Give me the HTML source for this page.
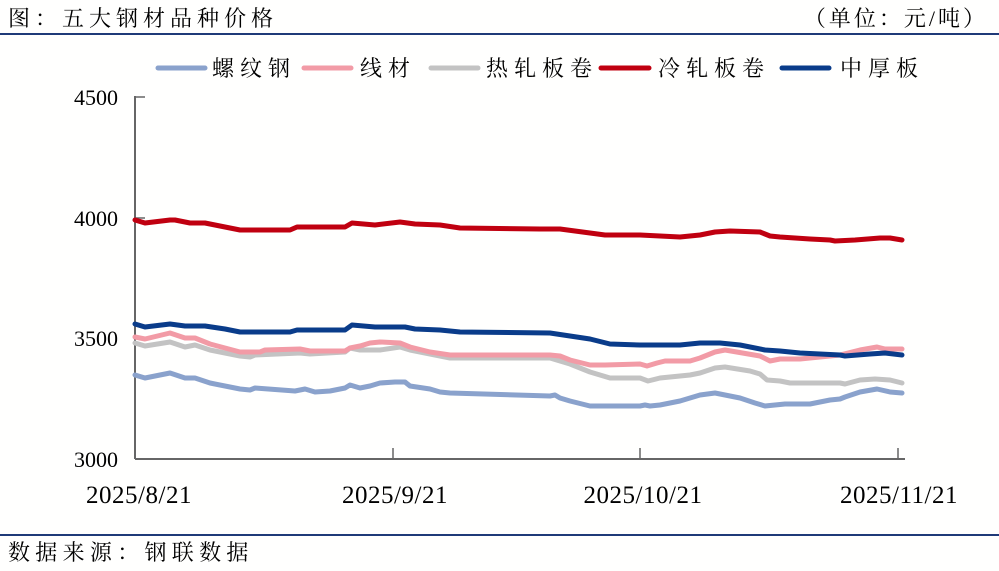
<!DOCTYPE html>
<html><head><meta charset="utf-8"><style>
body{margin:0;background:#fff;}
svg{display:block;}
</style></head><body>
<svg width="999" height="571" viewBox="0 0 999 571" xmlns="http://www.w3.org/2000/svg">
<rect width="999" height="571" fill="#fffffe"/>
<g font-family="Liberation Serif, 'Noto Serif CJK SC', serif" fill="#000">
<text x="8" y="26" font-size="22" letter-spacing="5">图：五大钢材品种价格</text>
<text x="988" y="26" font-size="22" text-anchor="end" letter-spacing="3">（单位：元/吨）</text>
<text x="8" y="560" font-size="22" letter-spacing="5.3">数据来源：钢联数据</text>
</g>
<line x1="0" y1="34" x2="999" y2="34" stroke="#1f3a78" stroke-width="2"/>
<line x1="0" y1="535" x2="999" y2="535" stroke="#1f3a78" stroke-width="2"/>
<g stroke-width="5" stroke-linecap="round">
<line x1="158" y1="68" x2="205" y2="68" stroke="#8aa2cc"/>
<line x1="304" y1="68" x2="351" y2="68" stroke="#f29ba6"/>
<line x1="431" y1="68" x2="478" y2="68" stroke="#c3c3c3"/>
<line x1="601" y1="68" x2="649" y2="68" stroke="#c00010"/>
<line x1="782" y1="68" x2="829" y2="68" stroke="#0a3c8a"/>
</g>
<g font-family="Liberation Serif, 'Noto Serif CJK SC', serif" font-size="22" fill="#000" letter-spacing="6">
<text x="212" y="76">螺纹钢</text>
<text x="360" y="76">线材</text>
<text x="486" y="76">热轧板卷</text>
<text x="658" y="76">冷轧板卷</text>
<text x="840" y="76">中厚板</text>
</g>
<line x1="135" y1="96" x2="135" y2="459" stroke="#666" stroke-width="2"/>
<line x1="135" y1="459" x2="905" y2="459" stroke="#666" stroke-width="2"/>
<g stroke="#666" stroke-width="1.5">
<line x1="135" y1="97" x2="145" y2="97"/><line x1="135" y1="218" x2="145" y2="218"/><line x1="135" y1="338" x2="145" y2="338"/>
<line x1="640" y1="448" x2="640" y2="459"/><line x1="898" y1="448" x2="898" y2="459"/><line x1="393" y1="448" x2="393" y2="459"/>
</g>
<g font-family="Liberation Serif, serif" font-size="22" fill="#000" text-anchor="end">
<text x="118" y="105">4500</text><text x="118" y="226">4000</text><text x="118" y="346">3500</text><text x="118" y="467">3000</text>
</g>
<g font-family="Liberation Serif, serif" font-size="25" fill="#000" text-anchor="middle" letter-spacing="0.5">
<text x="139" y="503">2025/8/21</text><text x="395" y="503">2025/9/21</text><text x="643" y="503">2025/10/21</text><text x="899" y="503">2025/11/21</text>
</g>
<g fill="none" stroke-width="5" stroke-linejoin="round" stroke-linecap="round">
<polyline stroke="#8aa2cc" points="135,375 145,378 170,373 185,378 195,378 210,383 240,389 250,390 255,388 295,391 305,389 315,392 330,391 345,388 350,385 360,388 370,386 380,383 395,382 405,382 410,386 430,389 440,392 450,393 550,396 555,395 560,398 570,401 590,406 605,406 640,406 645,405 650,406 660,405 680,401 700,395 715,393 740,398 755,403 765,406 785,404 810,404 830,400 840,399 845,397 860,392 877,389 890,392 902,393"/>
<polyline stroke="#c3c3c3" points="135,343 145,346 170,342 185,347 195,345 210,350 240,356 250,357 255,355 300,353 310,354 345,352 350,348 360,350 380,350 400,347 410,350 430,354 450,358 550,358 570,364 590,372 610,378 640,378 648,381 660,378 690,375 700,373 715,368 725,367 750,371 760,374 767,380 780,381 790,383 840,383 845,384 860,380 875,379 890,380 902,383"/>
<polyline stroke="#f29ba6" points="135,337 145,339 170,333 185,338 195,338 210,344 240,352 260,352 265,350 300,349 310,351 345,351 350,348 360,346 370,343 380,342 400,343 410,347 430,352 450,355 550,355 560,356 570,360 590,365 605,365 640,364 647,366 657,363 665,361 690,361 700,358 715,352 725,350 760,356 770,361 780,359 800,359 820,357 840,355 860,350 877,347 885,349 902,349"/>
<polyline stroke="#c00010" points="135,220 145,223 170,220 175,220 190,223 205,223 225,227 240,230 290,230 297,227 345,227 352,223 375,225 400,222 415,224 440,225 460,228 540,229 560,229 575,231 590,233 605,235 640,235 680,237 700,235 715,232 730,231 760,232 765,234 770,236 780,237 810,239 830,240 835,241 855,240 880,238 890,238 902,240"/>
<polyline stroke="#0a3c8a" points="135,324 145,327 170,324 185,326 205,326 225,329 240,332 290,332 297,330 345,330 352,325 375,327 405,327 415,329 440,330 460,332 550,333 570,336 590,339 610,344 640,345 680,345 700,343 720,343 740,345 765,350 780,351 800,353 840,355 845,356 870,354 885,353 902,355"/>
</g>
</svg>
</body></html>
